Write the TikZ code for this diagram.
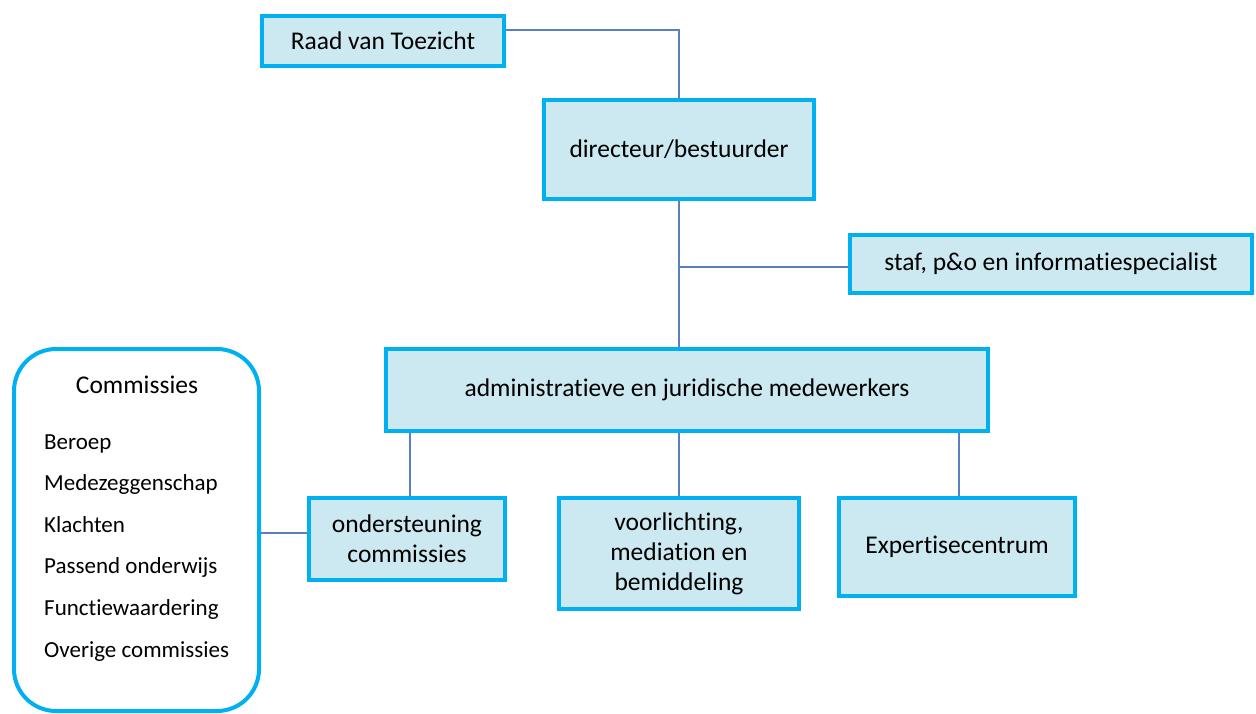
\documentclass[tikz,border=0pt]{standalone}
\usepackage{fontspec}
\setmainfont{Carlito}[Ligatures=NoCommon]
\definecolor{boxfill}{HTML}{CCE8F0}
\definecolor{boxline}{HTML}{00B0F0}
\definecolor{conn}{HTML}{5B7FC0}
\tikzset{
  orgbox/.style={draw=boxline, fill=boxfill, line width=4.5pt, rectangle, inner sep=0pt, align=center, font=\fontsize{25.5}{30}\selectfont},
  link/.style={draw=conn, line width=1.6pt},
}
\begin{document}
\begin{tikzpicture}[x=1pt,y=-1pt]
\useasboundingbox (0,0) rectangle (1256,713);
\node[orgbox, minimum width=242pt, minimum height=50pt] (raad) at (383,41) {Raad van Toezicht};
\node[orgbox, minimum width=270pt, minimum height=99pt] (dir) at (679,149.5) {directeur/bestuurder};
\node[orgbox, minimum width=402pt, minimum height=58pt] (staf) at (1051,264) {staf, p\&o en informatiespecialist};
\node[orgbox, minimum width=602pt, minimum height=82pt] (admin) at (687,390) {administratieve en juridische medewerkers};
\node[orgbox, minimum width=196pt, minimum height=82pt] (onder) at (407,539) {ondersteuning\\commissies};
\node[orgbox, minimum width=240pt, minimum height=111pt] (voor) at (679,553.5) {voorlichting,\\mediation en\\bemiddeling};
\node[orgbox, minimum width=236pt, minimum height=98pt] (exp) at (957,547) {Expertisecentrum};
\node[draw=boxline, line width=4pt, rounded corners=42pt, minimum width=245pt, minimum height=362pt, inner sep=0pt] (comm) at (136.5,530) {};
\node[font=\fontsize{25.5}{30}\selectfont] (commt) at (137,385) {Commissies};
\node[font=\fontsize{23}{41.6}\selectfont, align=left, anchor=base west, inner sep=0pt] (list) at (44,657) {Beroep\\Medezeggenschap\\Klachten\\Passend onderwijs\\Functiewaardering\\Overige commissies};
\coordinate (rj) at (679,30);
\coordinate (sj) at (679,267);
\draw[link] (raad.east |- rj) -- (rj) -- (dir.north);
\draw[link] (dir.south) -- (admin.north -| dir.south);
\draw[link] (sj) -- (staf.west |- sj);
\draw[link] (admin.south -| onder.north) ++(3,0) -- ([xshift=3pt]onder.north);
\draw[link] (admin.south -| voor.north) -- (voor.north);
\draw[link] (admin.south -| exp.north) ++(2,0) -- ([xshift=2pt]exp.north);
\draw[link] (comm.east |- onder.west) ++(0,-6) -- ([yshift=6pt]onder.west);
\end{tikzpicture}
\end{document}
